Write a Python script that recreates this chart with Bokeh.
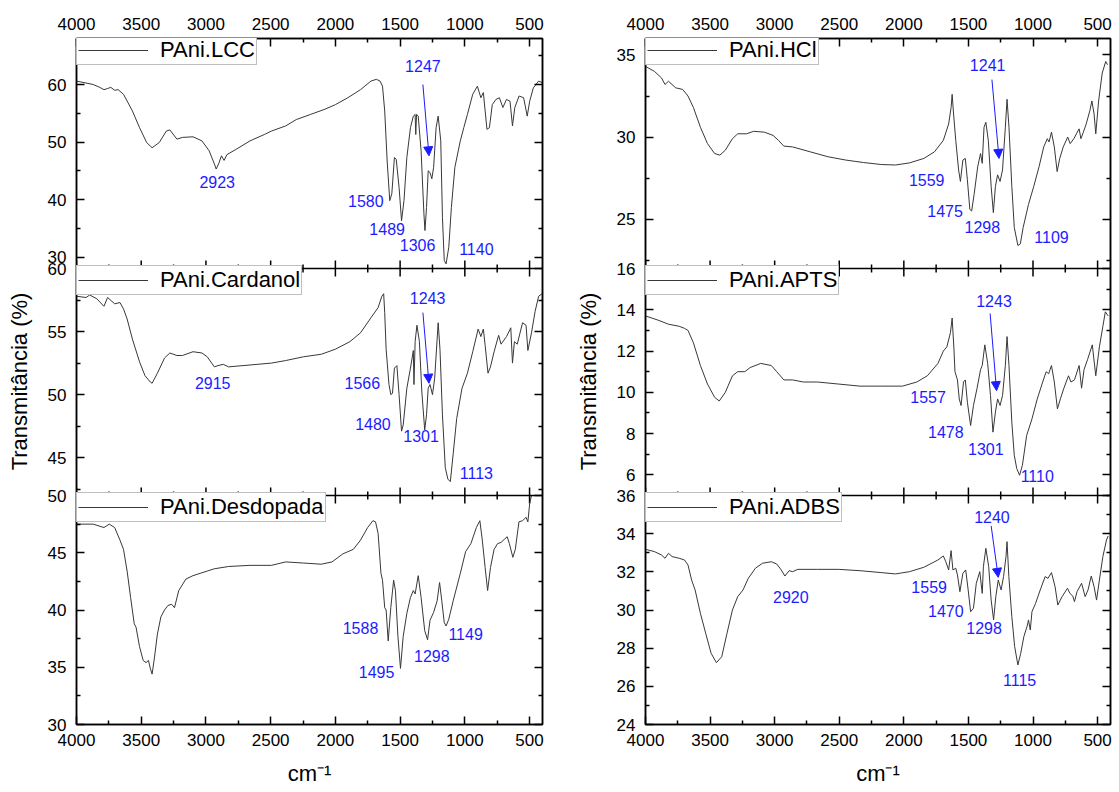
from bokeh.plotting import figure
from bokeh.models import (Range1d, LinearAxis, FixedTicker, CustomJSTickFormatter,
                          Legend, LegendItem, Arrow, NormalHead, ColumnDataSource, Span)
from bokeh.layouts import row
from bokeh.embed import file_html
from bokeh.resources import INLINE
from bokeh.core.properties import value

# ---------------- axis ticks ----------------
x_major = [4000, 3500, 3000, 2500, 2000, 1500, 1000, 500]
x_minor = [3750, 3250, 2750, 2250, 1750, 1250, 750]

# ---------------- PAni.LCC ----------------
lcc_wn = [4000, 3871, 3820, 3788, 3760, 3735, 3705, 3678, 3637, 3568, 3513, 3458, 3416, 3361, 3306, 3279,
          3224, 3182, 3100, 3031, 2976, 2935, 2921, 2902, 2880, 2860, 2838, 2769, 2659, 2549, 2494, 2384,
          2302, 2191, 2081, 2000, 1904, 1806, 1725, 1683, 1655, 1636, 1619, 1600, 1580, 1564, 1544, 1530,
          1508, 1489, 1470, 1448, 1420, 1398, 1384, 1379, 1373, 1360, 1338, 1316, 1308, 1296, 1283, 1269,
          1255, 1241, 1222, 1206, 1186, 1173, 1159, 1145, 1124, 1104, 1077, 1035, 1008, 980, 939, 903,
          876, 857, 829, 810, 788, 760, 733, 706, 678, 651, 632, 614, 581, 546, 518, 499, 471, 430, 400]
lcc_t = [60.6, 60.0, 59.5, 59.1, 59.3, 59.5, 59.0, 59.1, 58.3, 55.4, 52.5, 49.9, 49.0, 49.9, 51.9, 52.1,
         50.5, 50.8, 50.9, 50.2, 48.5, 46.2, 45.3, 46.2, 47.6, 46.8, 47.8, 48.7, 50.2, 51.3, 51.9, 52.8,
         53.9, 54.8, 55.7, 56.5, 57.7, 59.1, 60.6, 60.9, 60.6, 59.7, 55.4, 46.7, 39.8, 41.0, 47.3, 47.0,
         42.1, 36.3, 39.8, 47.3, 52.5, 54.5, 54.8, 51.3, 54.8, 54.5, 48.5, 37.5, 34.6, 38.6, 45.0, 44.7,
         43.6, 45.6, 52.5, 54.5, 50.2, 36.9, 29.4, 28.8, 31.7, 38.6, 45.6, 50.2, 52.5, 54.8, 58.3, 59.7,
         57.7, 58.6, 52.2, 52.5, 56.5, 57.4, 57.7, 56.0, 57.4, 57.1, 52.8, 56.0, 58.0, 57.7, 54.5, 57.1,
         59.4, 60.6, 60.3]
lcc_peak_text = ["2923", "1580", "1489", "1306", "1140", "1247"]
lcc_peak_x = [2913, 1765, 1600, 1365, 911, 1324]
lcc_peak_y = [43.0, 39.8, 34.9, 32.1, 31.4, 63.3]
lcc_arrow = [1324, 60.0, 1277, 47.6]
lcc_yticks = [30, 40, 50, 60]
lcc_yminor = [35, 45, 55, 65]

# ---------------- PAni.Cardanol ----------------
car_wn = [4000, 3926, 3898, 3843, 3788, 3760, 3705, 3664, 3637, 3609, 3568, 3513, 3471, 3430, 3416, 3375,
          3320, 3279, 3224, 3182, 3100, 3031, 2990, 2935, 2907, 2866, 2825, 2714, 2604, 2494, 2384, 2246,
          2109, 2000, 1888, 1806, 1725, 1670, 1641, 1627, 1619, 1608, 1586, 1572, 1559, 1544, 1525, 1508,
          1489, 1476, 1448, 1420, 1398, 1393, 1384, 1370, 1351, 1332, 1310, 1296, 1283, 1269, 1250, 1233,
          1206, 1192, 1173, 1151, 1131, 1112, 1090, 1063, 1022, 980, 939, 897, 876, 857, 843, 821, 802,
          774, 739, 720, 678, 645, 632, 617, 595, 554, 527, 513, 485, 457, 430, 402]
car_t = [57.8, 57.7, 57.9, 57.6, 57.0, 57.7, 57.2, 57.3, 56.8, 56.0, 54.4, 52.6, 51.5, 51.0, 50.9, 51.7,
         52.9, 53.3, 53.1, 53.1, 53.4, 53.3, 53.0, 52.2, 52.3, 52.4, 52.2, 52.3, 52.4, 52.5, 52.7, 53.0,
         53.2, 53.6, 54.2, 54.9, 56.1, 56.9, 57.8, 58.0, 56.5, 53.6, 50.8, 50.0, 50.1, 52.1, 52.3, 50.0,
         47.1, 47.6, 50.5, 52.1, 53.5, 50.8, 54.2, 55.5, 54.2, 50.2, 47.2, 48.4, 50.5, 50.8, 50.0, 51.3,
         55.7, 53.6, 48.4, 44.2, 43.3, 43.1, 45.3, 48.1, 50.5, 51.7, 53.4, 55.2, 54.6, 55.2, 53.9, 51.7, 52.2,
         53.4, 54.7, 54.0, 54.6, 55.3, 52.5, 54.2, 54.0, 55.7, 55.5, 53.5, 54.9, 56.6, 57.8, 58.0]
car_peak_text = ["2915", "1566", "1480", "1301", "1113", "1243"]
car_peak_x = [2948, 1792, 1710, 1338, 911, 1288]
car_peak_y = [50.9, 50.9, 47.7, 46.7, 43.8, 57.7]
car_arrow = [1324, 56.5, 1277, 50.9]
car_yticks = [45, 50, 55, 60]
car_yminor = [42.5, 47.5, 52.5, 57.5]

# ---------------- PAni.Desdopada ----------------
des_wn = [4000, 3871, 3788, 3747, 3705, 3664, 3637, 3609, 3582, 3554, 3540, 3513, 3485, 3463, 3444, 3430,
          3416, 3397, 3375, 3348, 3320, 3293, 3265, 3243, 3210, 3155, 3100, 3045, 2990, 2935, 2825, 2659,
          2494, 2384, 2246, 2109, 2026, 1943, 1861, 1806, 1751, 1710, 1690, 1670, 1648, 1636, 1619, 1608,
          1592, 1572, 1550, 1536, 1517, 1497, 1476, 1448, 1420, 1398, 1384, 1360, 1338, 1310, 1288, 1269,
          1241, 1214, 1195, 1178, 1159, 1145, 1124, 1090, 1035, 994, 953, 911, 884, 865, 843, 824, 802,
          774, 747, 720, 692, 673, 656, 629, 610, 582, 554, 527, 513, 499, 485]
des_t = [47.5, 47.5, 47.2, 47.5, 47.2, 46.1, 45.3, 43.4, 41.1, 38.8, 38.5, 36.8, 35.6, 35.4, 35.6, 34.9,
         34.4, 35.9, 37.9, 39.4, 40.0, 40.4, 40.5, 40.2, 41.7, 42.7, 43.0, 43.2, 43.4, 43.6, 43.8, 43.9,
         43.9, 44.2, 44.1, 44.0, 44.2, 44.9, 45.3, 46.1, 47.2, 47.8, 47.7, 46.7, 43.2, 42.6, 40.2, 40.0,
         37.3, 40.2, 42.6, 41.7, 37.7, 34.9, 37.7, 39.7, 41.1, 41.7, 41.4, 43.0, 41.1, 38.2, 37.4, 39.1,
         39.8, 40.8, 42.4, 40.8, 38.9, 38.6, 39.2, 40.8, 43.2, 45.1, 45.8, 47.2, 47.8, 46.1, 43.7, 41.7, 43.7,
         45.3, 45.8, 45.9, 46.2, 46.4, 45.8, 44.6, 45.3, 47.7, 47.8, 48.1, 47.7, 49.3, 50.0]
des_peak_text = ["1588", "1495", "1298", "1149"]
des_peak_x = [1806, 1682, 1255, 994]
des_peak_y = [38.4, 34.6, 36.0, 37.9]
des_yticks = [30, 35, 40, 45, 50]
des_yminor = [32.5, 37.5, 42.5, 47.5]

# ---------------- PAni.HCl ----------------
hcl_wn = [4000, 3931, 3876, 3849, 3822, 3767, 3712, 3671, 3629, 3575, 3520, 3465, 3424, 3382, 3327, 3286,
          3245, 3218, 3163, 3080, 3012, 2971, 2929, 2861, 2724, 2586, 2449, 2312, 2175, 2065, 1955, 1845,
          1763, 1694, 1653, 1634, 1626, 1615, 1598, 1576, 1562, 1543, 1524, 1508, 1489, 1475, 1456, 1428,
          1406, 1393, 1379, 1365, 1346, 1324, 1307, 1291, 1274, 1255, 1236, 1214, 1201, 1186, 1164, 1145,
          1117, 1098, 1076, 1035, 994, 953, 917, 889, 876, 857, 835, 813, 793, 766, 731, 712, 684, 643,
          629, 610, 588, 560, 544, 527, 514, 492, 464, 437, 423]
hcl_t = [34.3, 34.0, 33.6, 33.2, 33.4, 33.0, 32.9, 32.5, 31.8, 30.6, 29.6, 29.0, 28.9, 29.2, 29.9, 30.2,
         30.2, 30.2, 30.35, 30.3, 30.1, 29.8, 29.45, 29.4, 29.1, 28.8, 28.6, 28.45, 28.33, 28.3, 28.43, 28.7,
         29.1, 29.8, 30.8, 31.8, 32.6, 31.4, 29.8, 28.0, 27.3, 28.6, 28.7, 27.4, 25.6, 25.5, 26.5, 28.2,
         29.0, 28.4, 30.6, 30.9, 29.8, 27.0, 25.4, 27.0, 27.7, 27.3, 28.0, 30.6, 32.3, 30.6, 27.0, 24.5,
         23.4, 23.5, 24.5, 25.9, 27.0, 28.2, 29.4, 29.9, 29.7, 30.3, 29.4, 27.9, 28.7, 29.4, 30.0, 29.6,
         29.9, 30.5, 29.9, 30.3, 30.8, 31.6, 32.2, 31.4, 30.2, 32.2, 33.9, 34.6, 34.4]
hcl_peak_text = ["1559", "1475", "1298", "1109", "1241"]
hcl_peak_x = [1823, 1681, 1392, 857, 1351]
hcl_peak_y = [27.4, 25.5, 24.55, 23.9, 34.4]
hcl_arrow = [1318, 33.5, 1263, 28.7]
hcl_yticks = [25, 30, 35]
hcl_yminor = [22.5, 27.5, 32.5]

# ---------------- PAni.APTS ----------------
apt_wn = [4000, 3904, 3822, 3739, 3698, 3671, 3629, 3575, 3520, 3465, 3429, 3382, 3327, 3286, 3231, 3190,
          3108, 3026, 2984, 2929, 2861, 2778, 2669, 2504, 2339, 2175, 2010, 1900, 1818, 1736, 1694, 1667,
          1639, 1626, 1612, 1604, 1585, 1571, 1557, 1538, 1524, 1508, 1483, 1461, 1433, 1406, 1393, 1373,
          1351, 1329, 1310, 1291, 1274, 1255, 1236, 1214, 1201, 1186, 1164, 1145, 1126, 1104, 1082, 1049,
          1008, 967, 925, 898, 879, 857, 835, 811, 788, 761, 725, 706, 679, 643, 624, 605, 577, 541, 514,
          486, 459, 440, 418]
apt_t = [13.7, 13.5, 13.3, 13.2, 13.1, 13.0, 12.4, 11.3, 10.4, 9.76, 9.58, 10.0, 10.8, 11.0, 11.0, 11.2,
         11.4, 11.3, 11.0, 10.6, 10.6, 10.5, 10.5, 10.4, 10.3, 10.3, 10.3, 10.5, 10.8, 11.4, 12.0, 12.2,
         12.9, 13.6, 12.1, 11.0, 10.6, 9.68, 9.36, 10.5, 10.6, 9.52, 8.39, 9.36, 10.2, 11.1, 11.3, 12.3,
         11.4, 9.84, 8.07, 9.04, 9.68, 9.36, 9.84, 11.3, 12.7, 11.3, 8.55, 6.95, 6.31, 5.98, 6.47, 7.91,
         8.71, 9.68, 10.5, 11.0, 10.9, 11.3, 10.5, 9.2, 9.68, 10.2, 10.8, 10.5, 10.6, 11.3, 10.2, 11.1,
         11.6, 12.3, 10.8, 12.2, 13.2, 13.9, 13.7]
apt_peak_text = ["1557", "1478", "1301", "1110", "1243"]
apt_peak_x = [1812, 1675, 1365, 967, 1302]
apt_peak_y = [9.76, 8.1, 7.27, 5.94, 14.42]
apt_arrow = [1332, 13.82, 1282, 10.08]
apt_yticks = [6, 8, 10, 12, 14, 16]
apt_yminor = [5, 7, 9, 11, 13, 15]

# ---------------- PAni.ADBS ----------------
adb_wn = [4000, 3931, 3876, 3849, 3822, 3794, 3739, 3698, 3671, 3643, 3616, 3575, 3534, 3492, 3451, 3410,
          3369, 3327, 3286, 3245, 3204, 3149, 3094, 3026, 2984, 2949, 2921, 2888, 2861, 2820, 2669, 2504,
          2339, 2175, 2065, 1955, 1845, 1736, 1694, 1675, 1653, 1634, 1620, 1598, 1585, 1566, 1543, 1521,
          1502, 1483, 1461, 1439, 1412, 1393, 1384, 1365, 1343, 1324, 1305, 1288, 1269, 1247, 1228, 1209,
          1201, 1187, 1164, 1142, 1117, 1095, 1071, 1043, 1035, 1021, 1008, 980, 944, 906, 884, 857, 829,
          808, 775, 733, 714, 692, 679, 659, 624, 596, 574, 549, 527, 508, 486, 459, 431, 418]
adb_t = [33.18, 33.06, 32.88, 32.71, 32.97, 32.8, 32.71, 32.62, 32.36, 31.57, 31.05, 29.83, 28.78, 27.73,
         27.24, 27.55, 28.78, 30.0, 30.7, 31.05, 31.66, 32.19, 32.45, 32.53, 32.41, 32.1, 31.78, 32.06,
         32.01, 32.13, 32.13, 32.13, 32.06, 31.96, 31.89, 32.01, 32.24, 32.62, 32.83, 32.53, 32.1, 33.11,
         32.1, 32.19, 31.84, 30.96, 31.92, 32.1, 31.05, 29.91, 30.09, 31.4, 32.01, 30.87, 32.27, 33.23,
         32.27, 30.52, 29.48, 30.7, 31.57, 31.05, 31.75, 32.8, 33.58, 31.75, 29.65, 28.08, 27.12, 27.73,
         28.6, 29.21, 29.48, 28.95, 29.91, 30.35, 31.05, 31.75, 31.66, 31.96, 31.22, 30.26, 30.7, 31.14,
         30.87, 30.73, 30.44, 30.96, 31.4, 30.7, 31.05, 31.78, 31.22, 30.52, 31.57, 32.8, 33.67, 33.88]
adb_peak_text = ["2920", "1559", "1470", "1298", "1115", "1240"]
adb_peak_x = [2875, 1804, 1675, 1379, 1104, 1318]
adb_peak_y = [30.7, 31.22, 29.97, 29.04, 26.33, 34.86]
adb_arrow = [1324, 34.41, 1269, 31.71]
adb_yticks = [24, 26, 28, 30, 32, 34, 36]
adb_yminor = [25, 27, 29, 31, 33, 35]

# ---------------- styling / layout ----------------
FONT = "Liberation Sans"
BLUE = "#1c1cff"
LINE = "#383838"
FRAME_H = 686                                   # frame height of each column, px
BANDS = [(456, 686), (229, 456), (0, 229)]      # top, middle, bottom panel (px from frame bottom)
LEG_H = 27


def style_axis(ax, show_labels, standoff=10):
    ax.axis_line_color = "black"
    ax.axis_line_width = 1.5
    ax.major_tick_in = 8
    ax.major_tick_out = 0
    ax.minor_tick_in = 4
    ax.minor_tick_out = 0
    ax.major_tick_line_width = 1.5
    ax.minor_tick_line_width = 1.5
    ax.major_tick_line_color = "black"
    ax.minor_tick_line_color = "black"
    ax.major_label_text_font = FONT
    ax.major_label_text_color = "black"
    ax.major_label_text_font_size = "17px"
    ax.major_label_standoff = standoff
    if not show_labels:
        ax.formatter = CustomJSTickFormatter(code="return ''")
        ax.major_label_text_font_size = "0px"
        ax.major_label_standoff = 0


def make_column(panels, w, mbl, mbr):
    p = figure(width=w, height=792, x_range=Range1d(4000, 400), y_range=Range1d(0, FRAME_H),
               output_backend="svg", toolbar_location=None,
               x_axis_location=None, y_axis_location=None,
               min_border_left=mbl, min_border_right=mbr, min_border_top=38, min_border_bottom=68)
    p.grid.visible = False
    p.outline_line_color = "black"
    p.outline_line_width = 1.5
    p.background_fill_color = "white"
    p.border_fill_color = "white"

    extra = {}
    tick_pos, tick_lab, minor_pos = [], [], []
    for i, (pn, (b0, b1)) in enumerate(zip(panels, BANDS)):
        lo, hi = pn["yr"]
        span = hi - lo
        extra["r%d" % i] = Range1d(lo - span * b0 / (b1 - b0), hi + span * (FRAME_H - b1) / (b1 - b0))
        for v in pn["yt"]:
            tick_pos.append(round(b0 + (v - lo) / span * (b1 - b0), 3))
            tick_lab.append("%g" % v)
        for v in pn["ym"]:
            minor_pos.append(round(b0 + (v - lo) / span * (b1 - b0), 3))
    p.extra_y_ranges = extra

    fmt = CustomJSTickFormatter(args=dict(pos=tick_pos, lab=tick_lab), code="""
        for (let i = 0; i < pos.length; i++) {
            if (Math.abs(pos[i] - tick) < 0.01) { return lab[i]; }
        }
        return '';
    """)

    left = LinearAxis(ticker=FixedTicker(ticks=tick_pos, minor_ticks=minor_pos), formatter=fmt)
    style_axis(left, True, 10)
    left.formatter = fmt
    left.axis_label = "Transmitância (%)"
    left.axis_label_text_font = FONT
    left.axis_label_text_font_size = "22px"
    left.axis_label_text_font_style = "normal"
    left.axis_label_text_color = "black"
    left.axis_label_standoff = 13
    p.add_layout(left, "left")

    right = LinearAxis(ticker=FixedTicker(ticks=tick_pos, minor_ticks=minor_pos))
    style_axis(right, False)
    p.add_layout(right, "right")

    top = LinearAxis(ticker=FixedTicker(ticks=x_major, minor_ticks=x_minor))
    style_axis(top, True, 9)
    p.add_layout(top, "above")

    bottom = LinearAxis(ticker=FixedTicker(ticks=x_major, minor_ticks=x_minor))
    style_axis(bottom, True, 9)
    bottom.axis_label = "cm\u207b\u00b9"
    bottom.axis_label_text_font = FONT
    bottom.axis_label_text_font_size = "22px"
    bottom.axis_label_text_font_style = "normal"
    bottom.axis_label_text_color = "black"
    bottom.axis_label_standoff = 12
    p.add_layout(bottom, "below")

    # panel separators with inward ticks on both sides
    seps = [BANDS[0][0], BANDS[1][0]]
    for s in seps:
        p.add_layout(Span(location=s, dimension="width", line_color="black", line_width=1.5))
    tx = x_major + x_minor
    tl = [8] * len(x_major) + [4] * len(x_minor)
    sx, sy0, sy1 = [], [], []
    for s in seps:
        for xv, ln in zip(tx, tl):
            sx += [xv, xv]
            sy0 += [s, s]
            sy1 += [s + ln, s - ln]
    p.segment(x0=sx, y0=sy0, x1=sx, y1=sy1, line_color="black", line_width=1.5)

    for i, (pn, (b0, b1)) in enumerate(zip(panels, BANDS)):
        rn = "r%d" % i
        r = p.line(pn["wn"], pn["t"], y_range_name=rn, line_color=LINE, line_width=1)
        src = ColumnDataSource(dict(x=pn["px"], y=pn["py"], text=pn["ptxt"]))
        p.text(x="x", y="y", text="text", source=src, y_range_name=rn, text_color=BLUE,
               text_font=value(FONT), text_font_size="16px",
               text_align="center", text_baseline="middle")
        a = pn["arrow"]
        if a is not None:
            p.add_layout(Arrow(end=NormalHead(size=9, fill_color=BLUE, line_color=BLUE, line_width=1),
                               x_start=a[0], y_start=a[1], x_end=a[2], y_end=a[3], y_range_name=rn,
                               line_color=BLUE, line_width=1))
        leg = Legend(items=[LegendItem(label=pn["name"], renderers=[r])], location=(0, b1 - LEG_H),
                     margin=0, padding=1, spacing=0, glyph_width=70, glyph_height=16,
                     label_standoff=12, label_height=16,
                     label_text_font=FONT, label_text_font_size="22px", label_text_color="black",
                     border_line_color="#808080", border_line_width=1.5,
                     background_fill_color="white", background_fill_alpha=1.0)
        p.add_layout(leg)
    return p


def pnl(name, wn, t, yr, yt, ym, ptxt, px, py, arrow):
    return dict(name=name, wn=wn, t=t, yr=yr, yt=yt, ym=ym, ptxt=ptxt, px=px, py=py, arrow=arrow)


left_panels = [
    pnl("PAni.LCC", lcc_wn, lcc_t, (28, 68), lcc_yticks, lcc_yminor,
        lcc_peak_text, lcc_peak_x, lcc_peak_y, lcc_arrow),
    pnl("PAni.Cardanol", car_wn, car_t, (42, 60), car_yticks, car_yminor,
        car_peak_text, car_peak_x, car_peak_y, car_arrow),
    pnl("PAni.Desdopada", des_wn, des_t, (30, 50), des_yticks, des_yminor,
        des_peak_text, des_peak_x, des_peak_y, None),
]
right_panels = [
    pnl("PAni.HCl", hcl_wn, hcl_t, (22, 36), hcl_yticks, hcl_yminor,
        hcl_peak_text, hcl_peak_x, hcl_peak_y, hcl_arrow),
    pnl("PAni.APTS", apt_wn, apt_t, (5, 16), apt_yticks, apt_yminor,
        apt_peak_text, apt_peak_x, apt_peak_y, apt_arrow),
    pnl("PAni.ADBS", adb_wn, adb_t, (24, 36), adb_yticks, adb_yminor,
        adb_peak_text, adb_peak_x, adb_peak_y, adb_arrow),
]

col_left = make_column(left_panels, 572, 76, 30)
col_right = make_column(right_panels, 547, 72, 9)

layout = row(col_left, col_right, spacing=0)

open("out.html", "w").write(file_html(layout, INLINE, title="FTIR PAni"))
